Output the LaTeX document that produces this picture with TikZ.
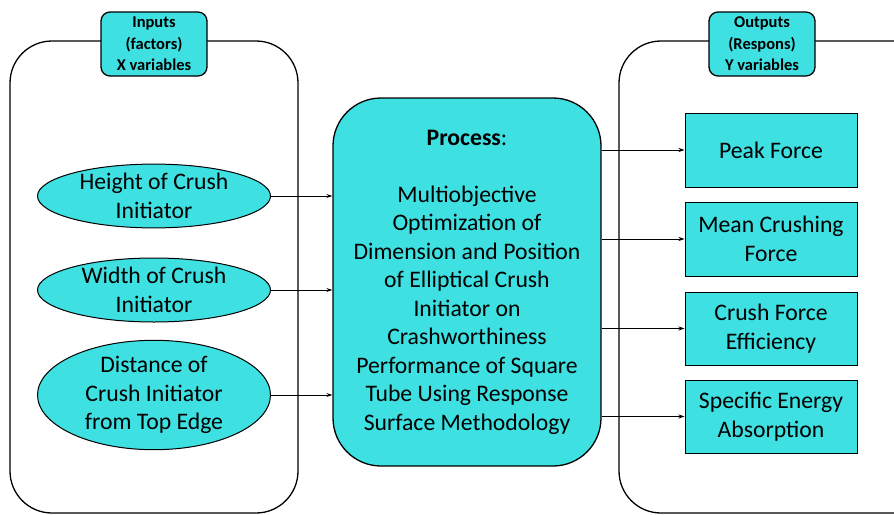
\documentclass[tikz,border=0pt]{standalone}
\usepackage{fontspec}
\setmainfont{Carlito}
\usetikzlibrary{shapes.geometric,arrows.meta}
\definecolor{cyanfill}{RGB}{62,224,226}
\begin{document}
\begin{tikzpicture}[x=1pt,y=-1pt,
  frame/.style={draw=black,line width=1.3pt,rounded corners=42pt},
  tag/.style={draw=black,line width=1.3pt,fill=cyanfill,rounded corners=9pt,minimum width=106pt,minimum height=64pt,align=center,inner sep=0pt,font=\fontsize{16.5}{21.5}\selectfont\bfseries},
  oval/.style={ellipse,draw=black,line width=1pt,fill=cyanfill,minimum width=233pt,inner sep=0pt,align=center,font=\fontsize{23.7}{28.5}\selectfont},
  outbox/.style={draw=black,line width=1pt,fill=cyanfill,minimum width=172pt,minimum height=73pt,inner sep=0pt,align=center,font=\fontsize{23.7}{28.5}\selectfont},
  conn/.style={-{Stealth[length=6pt,width=4pt]},line width=1pt}]
\useasboundingbox (0,0) rectangle (894,514);
% big frames
\draw[frame] (10,513) rectangle (298,41);
\draw[frame] (619,513) rectangle (935,41);
% tags
\node[tag] (inp) at (154,44) {Inputs\\(factors)\\X variables};
\node[tag] (outp) at (762,44) {Outputs\\(Respons)\\Y variables};
% process
\node[draw=black,line width=1.3pt,fill=cyanfill,rounded corners=48pt,minimum width=268pt,minimum height=368pt,inner sep=0pt,align=center,font=\fontsize{23.7}{28.5}\selectfont] (proc) at (467,282)
  {\textbf{Process}:\\[28.5pt] Multiobjective\\Optimization of\\Dimension and Position\\of Elliptical Crush\\Initiator on\\Crashworthiness\\Performance of Square\\Tube Using Response\\Surface Methodology};
% inputs
\node[oval,minimum height=63pt] (h) at (154,196) {Height of Crush\\Initiator};
\node[oval,minimum height=64pt] (w) at (154,290) {Width of Crush\\Initiator};
\node[oval,minimum height=97pt] (d) at (154,395) {Distance of\\Crush Initiator\\from Top Edge};
% outputs
\node[outbox,minimum height=74pt] (pf) at (771,150) {Peak Force};
\node[outbox,minimum height=74pt] (mc) at (771,239) {Mean Crushing\\Force};
\node[outbox,minimum height=73pt] (ce) at (771,328.5) {Crush Force\\Efficiency};
\node[outbox,minimum height=73pt] (se) at (771,416.5) {Specific Energy\\Absorption};
% connectors
\draw[conn] (h.east) -- (h.east -| proc.west);
\draw[conn] (w.east) -- (w.east -| proc.west);
\draw[conn] (d.east) -- (d.east -| proc.west);
\draw[conn] (proc.east |- pf.west) -- (pf.west);
\draw[conn] (proc.east |- mc.west) -- (mc.west);
\draw[conn] (proc.east |- ce.west) -- (ce.west);
\draw[conn] (proc.east |- se.west) -- (se.west);
\end{tikzpicture}
\end{document}
